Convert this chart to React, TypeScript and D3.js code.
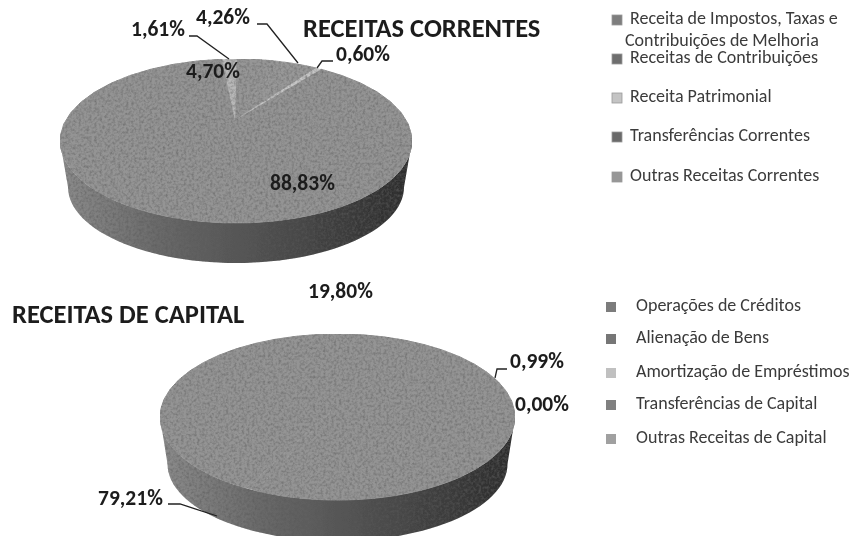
import React from "react";
import * as d3 from "d3";

const currentLegend = ["Receita de Impostos, Taxas e", "Receitas de Contribuições", "Receita Patrimonial", "Transferências Correntes", "Outras Receitas Correntes"];
const currentValues = [1.61, 4.7, 4.26, 0.6, 88.83];
const currentFills = ["#b8b8b8", "#969696", "#989898", "#c6c6c6", "#949494"];
const capitalLegend = ["Operações de Créditos", "Alienação de Bens", "Amortização de Empréstimos", "Transferências de Capital", "Outras Receitas de Capital"];
const capitalValues = [79.21, 19.8, 0.99, 0.0];
const capitalFills = ["#949494", "#949494", "#949494", "#949494"];
const FONT = "Carlito, 'Open Sans', 'Noto Sans', sans-serif";

function topPath(cx: number, cy: number, rx: number, ry: number, a0: number, a1: number, ax: number, ay: number) {
  const pts = d3.range(0, 41).map((i) => {
    const t = a0 + ((a1 - a0) * i) / 40;
    return [cx + rx * Math.sin(t), cy - ry * Math.cos(t)] as [number, number];
  });
  return `M${ax},${ay}L` + pts.map((p) => p.join(",")).join("L") + "Z";
}

function sidePath(cx: number, cy: number, rx: number, ry: number, bcy: number, brx: number, bry: number) {
  const ts = d3.range(0, 61).map((i) => Math.PI / 2 + (Math.PI * i) / 60);
  const top = ts.map((t) => [cx + rx * Math.sin(t), cy - ry * Math.cos(t)]);
  const bottom = ts.slice().reverse().map((t) => [cx + brx * Math.sin(t), bcy - bry * Math.cos(t)]);
  return "M" + top.concat(bottom).map((p) => p.join(",")).join("L") + "Z";
}

function Pie3D({ cx, cy, rx, ry, bcy, brx, bry, ax, ay, values, fills, start, warp, id }: any) {
  const arcs = d3.pie<number>().sort(null).startAngle(start).endAngle(start + 2 * Math.PI)(values);
  const order = arcs.map((_, i) => i).sort((p, q) => values[q] - values[p]);
  return (
    <g>
      <defs>
        <linearGradient id={id} x1="1" x2="0" y1="0" y2="0">
          <stop offset="0" stopColor="#2c2c2c" />
          <stop offset="0.12" stopColor="#363636" />
          <stop offset="0.4" stopColor="#4e4e4e" />
          <stop offset="0.7" stopColor="#686868" />
          <stop offset="1" stopColor="#8c8c8c" />
        </linearGradient>
      </defs>
      <g filter="url(#grain)">
        <path d={sidePath(cx, cy, rx, ry, bcy, brx, bry)} fill={`url(#${id})`} />
        {order.map((i) => (
          <path key={i} d={topPath(cx, cy, rx, ry, warp(arcs[i].startAngle), warp(arcs[i].endAngle), ax, ay)} fill={fills[i]} stroke={fills[i]} strokeWidth={values[i] > 3 ? 1 : 0} />
        ))}
      </g>
    </g>
  );
}

function T({ x, y, s, b, size = 18, anchor = "start" }: any) {
  return (
    <text x={x} y={y} fontFamily={FONT} fontSize={size} fontWeight={b ? 700 : 400} textAnchor={anchor} fill={b ? "#1c1c1c" : "#3a3a3a"} filter="url(#soft)">
      {s}
    </text>
  );
}

function Leader({ d }: { d: string }) {
  return <path d={d} fill="none" stroke="#222" strokeWidth={1.3} />;
}

const legendBase1 = [24, 63, 102, 141, 181];
const legendFill1 = ["#7e7e7e", "#6e6e6e", "#c4c4c4", "#6a6a6a", "#979797"];
const legendBase2 = [311, 343, 377, 409, 443];
const legendFill2 = ["#7c7c7c", "#767676", "#c0c0c0", "#808080", "#a0a0a0"];

const LABEL = 21.5;
const startTop = -0.198;
const warpTop = d3.scaleLinear().domain([startTop, 0.504, startTop + 2 * Math.PI]).range([-0.08, 0.504, -0.08 + 2 * Math.PI]);
const warpBottom = (a: number) => a;

export default function App() {
  return (
    <svg width={851} height={536} style={{ position: "absolute", left: 0, top: 0, background: "#fff" }}>
      <defs>
        <filter id="grain" x="0" y="0" width="1" height="1">
          <feTurbulence type="fractalNoise" baseFrequency="0.38" numOctaves={2} seed={4} result="n" />
          <feColorMatrix in="n" type="matrix" values="0 0 0 0 0.1  0 0 0 0 0.1  0 0 0 0 0.1  1.3 0 0 0 -0.5" result="a" />
          <feComposite in="a" in2="SourceAlpha" operator="in" result="dots" />
          <feMerge result="m">
            <feMergeNode in="SourceGraphic" />
            <feMergeNode in="dots" />
          </feMerge>
          <feGaussianBlur in="m" stdDeviation="0.45" />
        </filter>
        <filter id="soft" x="-5%" y="-20%" width="110%" height="140%">
          <feGaussianBlur stdDeviation="0.35" />
        </filter>
      </defs>
      <Pie3D id="s1" cx={236} cy={141} rx={176} ry={82} bcy={187} brx={168} bry={76} ax={235} ay={120} values={currentValues} fills={currentFills} start={startTop} warp={warpTop} />
      <Pie3D id="s2" cx={337.5} cy={417} rx={177.5} ry={83} bcy={464} brx={170} bry={77} ax={337} ay={405} values={capitalValues} fills={capitalFills} start={-2.6} warp={warpBottom} />

      <Leader d="M189,36 H197 L229,59" />
      <Leader d="M257,24 H267 L298,63" />
      <Leader d="M333,61 H322 L317,68" />
      <Leader d="M507,369 H497 L495,378" />
      <Leader d="M168,504 H180 L217,516" />

      <T x={131} y={36} s="1,61%" b size={LABEL} />
      <T x={196} y={24} s="4,26%" b size={LABEL} />
      <T x={336} y={61} s="0,60%" b size={LABEL} />
      <T x={186} y={78} s="4,70%" b size={LABEL} />
      <T x={270} y={190} s="88,83%" b size={LABEL} />
      <T x={308} y={298} s="19,80%" b size={LABEL} />
      <T x={510} y={368} s="0,99%" b size={LABEL} />
      <T x={515} y={411} s="0,00%" b size={LABEL} />
      <T x={98} y={505} s="79,21%" b size={LABEL} />
      <T x={303} y={37} s={"RECEITAS CORRENTES"} b size={26.5} />
      <T x={12} y={323} s={"RECEITAS DE CAPITAL"} b size={26.5} />

      {currentLegend.map((s, i) => (
        <g key={s}>
          <rect x={612} y={legendBase1[i] - 9} width={10} height={10} fill={legendFill1[i]} stroke="#999" strokeWidth={0.8} filter="url(#soft)" />
          <T x={630} y={legendBase1[i]} s={s} />
        </g>
      ))}
      <T x={625} y={46} s="Contribuições de Melhoria" />
      {capitalLegend.map((s, i) => (
        <g key={s}>
          <rect x={606} y={legendBase2[i] - 9} width={10} height={10} fill={legendFill2[i]} filter="url(#soft)" />
          <T x={636} y={legendBase2[i]} s={s} />
        </g>
      ))}
    </svg>
  );
}
